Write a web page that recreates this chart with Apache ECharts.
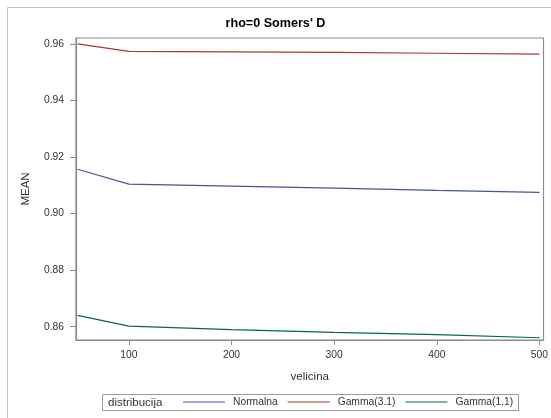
<!DOCTYPE html>
<html>
<head>
<meta charset="utf-8">
<script src="https://cdn.jsdelivr.net/npm/echarts@6/dist/echarts.min.js"></script>
<style>
html,body{margin:0;padding:0;background:#fff;}
#chart{width:551px;height:418px;}
</style>
</head>
<body>
<div id="chart"></div>
<script>
// Data
var velicina = [50, 100, 200, 300, 400, 500];
var seriesNames = ['Normalna', 'Gamma(3.1)', 'Gamma(1.1)'];
var normalna = [0.9157, 0.9104, 0.9097, 0.9090, 0.9082, 0.9075];
var gamma31 = [0.9600, 0.9574, 0.9572, 0.9570, 0.9567, 0.9564];
var gamma11 = [0.8640, 0.8602, 0.8590, 0.8580, 0.8572, 0.8561];
var xTicks = [100, 200, 300, 400, 500];
var yTicks = [0.86, 0.88, 0.90, 0.92, 0.94, 0.96];
var colors = ['#445694', '#A23A2E', '#01665E'];

function pairs(xs, ys) { return xs.map(function (x, i) { return [x, ys[i]]; }); }

var chart = echarts.init(document.getElementById('chart'), null, {renderer: 'canvas'});
var font = 'Liberation Sans, Arial, sans-serif';
var axisGray = '#8c8c8c';

var option = {
  backgroundColor: '#fff',
  animation: false,
  textStyle: {fontFamily: font},
  title: {
    text: "rho=0 Somers' D",
    left: 'center',
    top: 17,
    padding: 0,
    textStyle: {fontFamily: font, fontWeight: 'bold', fontSize: 12.6, color: '#000'}
  },
  grid: {left: 76, right: 6, top: 38, bottom: 78, show: true, borderColor: axisGray, borderWidth: 1.2, backgroundColor: '#fff'},
  xAxis: {
    type: 'value',
    min: 48.5,
    max: 504,
    name: 'velicina',
    nameLocation: 'middle',
    nameGap: 31,
    nameTextStyle: {fontFamily: font, fontSize: 11.5, color: '#333'},
    axisLine: {show: true, lineStyle: {color: axisGray, width: 1.2}},
    axisTick: {show: true, length: 5, lineStyle: {color: axisGray}, customValues: xTicks},
    axisLabel: {fontFamily: font, fontSize: 10.3, color: '#333', margin: 10, customValues: xTicks},
    splitLine: {show: false}
  },
  yAxis: {
    type: 'value',
    min: 0.8553,
    max: 0.9621,
    name: 'MEAN',
    nameLocation: 'middle',
    nameRotate: 90,
    nameGap: 44,
    nameTextStyle: {fontFamily: font, fontSize: 11.5, color: '#333'},
    axisLine: {show: true, lineStyle: {color: axisGray, width: 1.2}},
    axisTick: {show: true, length: 6, lineStyle: {color: axisGray}, customValues: yTicks},
    axisLabel: {fontFamily: font, fontSize: 10.3, color: '#333', margin: 12, customValues: yTicks,
      formatter: function (v) { return v.toFixed(2); }},
    splitLine: {show: false}
  },
  legend: {
    left: 183,
    top: 397,
    padding: 0,
    itemGap: 10,
    itemWidth: 42,
    itemHeight: 1,
    icon: 'rect',
    data: seriesNames,
    textStyle: {fontFamily: font, fontSize: 10.3, color: '#333', padding: [0, 0, 0, 3]}
  },
  graphic: [
    {type: 'line', shape: {x1: 7.5, y1: 7.5, x2: 560, y2: 7.5}, style: {stroke: '#c4c4c4', lineWidth: 1}, silent: true},
    {type: 'line', shape: {x1: 7.5, y1: 7.5, x2: 7.5, y2: 430}, style: {stroke: '#c4c4c4', lineWidth: 1}, silent: true},
    {type: 'rect', shape: {x: 102.5, y: 394.5, width: 416, height: 16}, style: {fill: 'none', stroke: '#9a9a9a', lineWidth: 1}, silent: true, z: -1},
    {type: 'text', x: 108, y: 402.5, style: {text: 'distribucija', font: '11.5px Liberation Sans, Arial, sans-serif', fill: '#333', verticalAlign: 'middle'}, silent: true}
  ],
  series: [
    {name: seriesNames[0], type: 'line', data: pairs(velicina, normalna), symbol: 'none', lineStyle: {color: colors[0], width: 1.2}, itemStyle: {color: colors[0]}},
    {name: seriesNames[1], type: 'line', data: pairs(velicina, gamma31), symbol: 'none', lineStyle: {color: colors[1], width: 1.2}, itemStyle: {color: colors[1]}},
    {name: seriesNames[2], type: 'line', data: pairs(velicina, gamma11), symbol: 'none', lineStyle: {color: colors[2], width: 1.2}, itemStyle: {color: colors[2]}}
  ]
};
chart.setOption(option);
</script>
</body>
</html>
